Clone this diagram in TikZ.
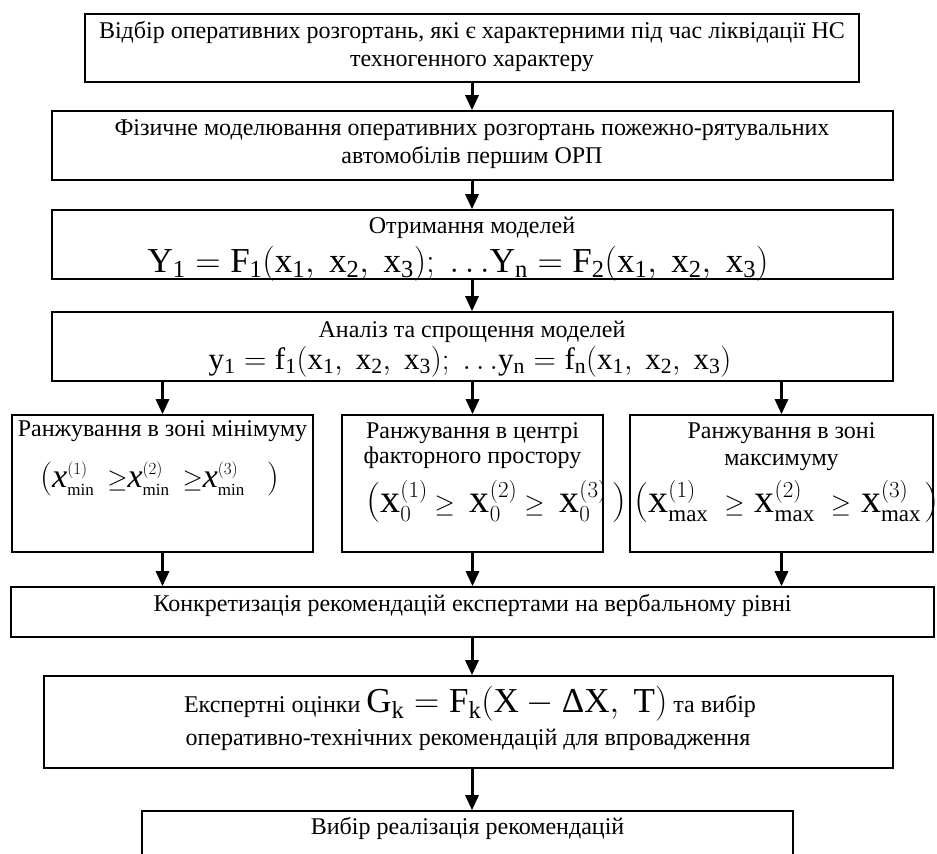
\RequirePackage{fix-cm}
\documentclass[tikz,border=0pt]{standalone}
\usepackage{fontspec}
\setmainfont{Liberation Serif}
\usetikzlibrary{arrows.meta}
\DeclareMathSizes{40}{40}{23}{17}
\DeclareMathSizes{34}{34}{17}{13}
\newcommand{\smallgeq}{\mbox{\fontsize{26}{26}\selectfont$\geq$}}
\begin{document}
\begin{tikzpicture}[x=1pt,y=-1pt,
  box/.style={draw, line width=1.6pt, inner sep=0pt},
  arr/.style={line width=3pt, -{Triangle[length=15pt,width=13pt]}},
  lbl/.style={inner sep=0pt, align=center, font=\fontsize{24}{28}\selectfont},
  lblb/.style={inner sep=0pt, align=center, font=\fontsize{24}{25}\selectfont},
  fml/.style={inner sep=0pt}]
\useasboundingbox (0,0) rectangle (937,854);
% boxes
\node[box, minimum width=774pt, minimum height=68pt] (b1) at (472,48) {};
\node[box, minimum width=841pt, minimum height=69pt] (b2) at (472.5,145.5) {};
\node[box, minimum width=841pt, minimum height=69pt] (b3) at (472.5,244.5) {};
\node[box, minimum width=841pt, minimum height=69pt] (b4) at (472.5,346.5) {};
\node[box, minimum width=301pt, minimum height=137pt] (b5a) at (162.5,483.5) {};
\node[box, minimum width=261pt, minimum height=137pt] (b5b) at (472.5,483.5) {};
\node[box, minimum width=303pt, minimum height=137pt] (b5c) at (781.5,483.5) {};
\node[box, minimum width=923pt, minimum height=50pt] (b6) at (472.5,612) {};
\node[box, minimum width=849pt, minimum height=92pt] (b7) at (468.5,722) {};
\node[box, minimum width=651pt, minimum height=89pt] (b8) at (467.5,855.5) {};
% texts
\node[lbl] (t1) at (472,46) {Відбір оперативних розгортань, які є характерними під час ліквідації НС\\техногенного характеру};
\node[lbl] (t2) at (472,144) {Фізичне моделювання оперативних розгортань пожежно-рятувальних\\автомобілів першим ОРП};
\node[lbl] (t3) at (472,228) {Отримання моделей};
\node[fml, anchor=base, font=\fontsize{35}{40}\selectfont] (f3) at (458,272)
  {$\mathrm{Y_1 = F_1(x_1,\ x_2,\ x_3);\ {\ldots}Y_n = F_2(x_1,\ x_2,\ x_3)}$};
\node[lbl] (t4) at (472,332) {Аналіз та спрощення моделей};
\node[fml, anchor=base, font=\fontsize{31}{34}\selectfont] (f4) at (470,369)
  {$\mathrm{y_1 = f_1(x_1,\ x_2,\ x_3);\ {\ldots}y_n = f_n(x_1,\ x_2,\ x_3)}$};
\node[lbl] (t5a) at (162.5,431) {Ранжування в зоні мінімуму};
\node[fml, anchor=base west, font=\fontsize{34}{36}\selectfont] (f5a) at (40,487)
  {$\left(\mathit{x}^{(1)}_{\mathrm{min}}\hspace{13pt}\smallgeq\hspace{0pt}\mathit{x}^{(2)}_{\mathrm{min}}\hspace{13pt}\smallgeq\hspace{0pt}\mathit{x}^{(3)}_{\mathrm{min}}\hspace{22pt}\right)$};
\node[lblb] (t5b) at (472.5,446) {Ранжування в центрі\\факторного простору};
\node[fml, anchor=base west, font=\fontsize{40}{42}\selectfont] (f5b) at (366,512)
  {$\left(\mathrm{x}_0^{(1)}\hspace{7pt}\smallgeq\hspace{15pt}\mathrm{x}_0^{(2)}\hspace{7pt}\smallgeq\hspace{15pt}\mathrm{x}_0^{(3)}\hspace{5pt}\right)$};
\node[lbl] (t5c) at (781.5,433) {Ранжування в зоні};
\node[lbl] (t5c2) at (781.5,462) {максимуму};
\node[fml, anchor=base west, font=\fontsize{40}{42}\selectfont] (f5c) at (634,512)
  {$\left(\mathrm{x}_{\mathrm{max}}^{(1)}\hspace{16pt}\smallgeq\hspace{10pt}\mathrm{x}_{\mathrm{max}}^{(2)}\hspace{16pt}\smallgeq\hspace{10pt}\mathrm{x}_{\mathrm{max}}^{(3)}\hspace{3pt}\right)$};
\node[lbl] (t6) at (472.5,605) {Конкретизація рекомендацій експертами на вербальному рівні};
\node[lbl] (t7a) at (470,704) {Експертні оцінки {\fontsize{35}{40}\selectfont$\mathrm{G_k = F_k{\left(X - \mbox{Δ}X,\ T\right)}}$} та вибір};
\node[lbl] (t7b) at (468,740) {оперативно-технічних рекомендацій для впровадження};
\node[lbl] (t8) at (467.5,828) {Вибір реалізація рекомендацій};
% arrows
\draw[arr] (b1.south) -- (b1.south |- b2.north);
\draw[arr] (b2.south -| b1.south) -- (b3.north -| b1.south);
\draw[arr] (b3.south -| b1.south) -- (b4.north -| b1.south);
\draw[arr] (b4.south -| b5a.north) -- (b5a.north);
\draw[arr] (b4.south -| b5b.north) -- (b5b.north);
\draw[arr] (b4.south -| b5c.north) -- (b5c.north);
\draw[arr] (b5a.south) -- (b5a.south |- b6.north);
\draw[arr] (b5b.south) -- (b5b.south |- b6.north);
\draw[arr] (b5c.south) -- (b5c.south |- b6.north);
\draw[arr] (b6.south -| b1.south) -- (b7.north -| b1.south);
\draw[arr] (b7.south -| b1.south) -- (b8.north -| b1.south);
\end{tikzpicture}
\end{document}
